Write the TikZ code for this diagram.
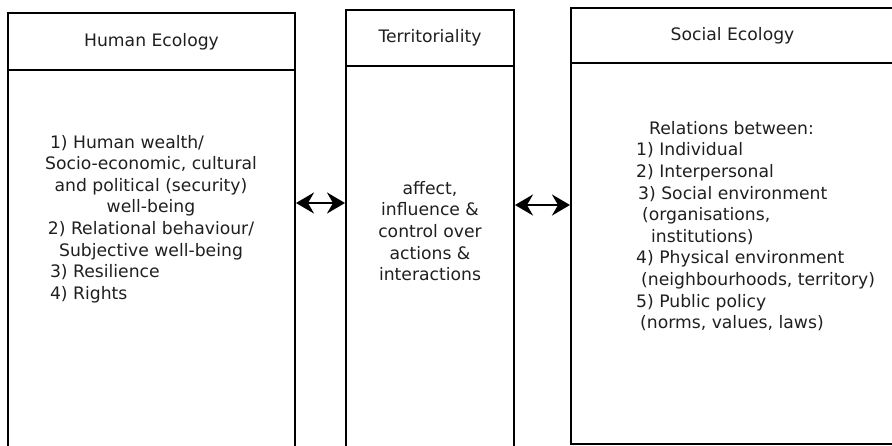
\documentclass[tikz,border=0pt]{standalone}
\usepackage{fontspec}
\setmainfont{DejaVu Sans}
\usetikzlibrary{arrows.meta}
\begin{document}
\begin{tikzpicture}[x=1pt,y=-1pt,
  frame/.style={draw, line width=2pt, inner sep=0pt, anchor=north west},
  lbl/.style={font=\fontsize{17.2}{21.6}\selectfont, inner sep=0pt, text=black!88},
  tip/.style={Stealth[length=18pt,width=21pt,inset=6pt]},
  link/.style={line width=2.2pt, {Stealth[length=18pt,width=21pt,inset=6pt]}-{Stealth[length=18pt,width=21pt,inset=6pt]}}]
\useasboundingbox (0,0) rectangle (892,445);
% Human Ecology
\node[frame, lbl, minimum width=287pt, minimum height=57pt] (h1) at (7,12) {Human Ecology};
\node[frame, minimum width=287pt, minimum height=385pt] (b1) at (7,69) {};
% Territoriality
\node[frame, lbl, minimum width=168pt, minimum height=56pt] (h2) at (345,9) {Territoriality};
\node[frame, minimum width=168pt, minimum height=390pt] (b2) at (345,65) {};
% Social Ecology
\node[frame, lbl, minimum width=323pt, minimum height=55pt] (h3) at (570,7) {Social Ecology};
\node[frame, minimum width=323pt, minimum height=381pt] (b3) at (570,62) {};
% body texts
\node[lbl, align=center] (t1) at (151,219) {\makebox[202pt][l]{1) Human wealth/}\\
Socio-economic, cultural\\
and political (security)\\
well-being\\
2) Relational behaviour/\\
Subjective well-being\\
\makebox[202pt][l]{3) Resilience}\\
\makebox[202pt][l]{4) Rights}};
\node[lbl, align=center] (t2) at (430,231) {affect,\\influence \&\\control over\\actions \&\\interactions};
\node[lbl, align=left, anchor=west] (t3) at (636,226) {\hspace*{13pt}Relations between:\\
1) Individual\\
2) Interpersonal\\
\hspace*{2pt}3) Social environment\\
\hspace*{6pt}(organisations,\\
\hspace*{15pt}institutions)\\
4) Physical environment\\
\hspace*{5pt}(neighbourhoods, territory)\\
5) Public policy\\
\hspace*{4pt}(norms, values, laws)};
% connectors
\coordinate (ya) at (0,203);
\coordinate (yb) at (0,205);
\draw[link] (b1.east |- ya) -- (b2.west |- ya);
\draw[link] (b2.east |- yb) -- (b3.west |- yb);
\end{tikzpicture}
\end{document}
